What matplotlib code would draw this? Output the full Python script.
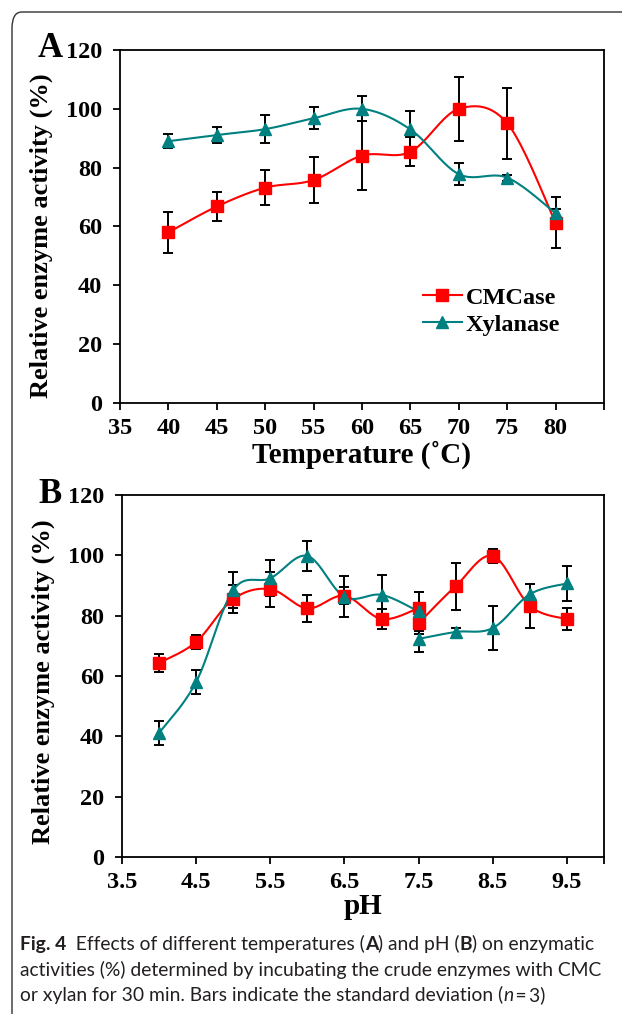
import numpy as np
import matplotlib
matplotlib.use("Agg")
import matplotlib.pyplot as plt
from matplotlib.patches import FancyBboxPatch

# panel A: temperature
temp = [40, 45, 50, 55, 60, 65, 70, 75, 80]
cmc_temp = [58.0, 66.8, 73.2, 75.8, 84.1, 85.4, 100.0, 95.1, 61.3]
cmc_temp_sd = [6.9, 5.0, 6.0, 7.8, 11.6, 5.0, 10.8, 12.0, 8.7]
xyl_temp = [89.0, 91.1, 93.1, 96.8, 100.0, 93.0, 77.8, 76.6, 64.5]
xyl_temp_sd = [2.3, 2.8, 4.8, 3.7, 4.2, 6.3, 3.8, 1.0, 1.5]

# panel B: pH, two buffer ranges overlapping at 7.5
ph1 = [4.0, 4.5, 5.0, 5.5, 6.0, 6.5, 7.0, 7.5]
ph2 = [7.5, 8.0, 8.5, 9.0, 9.5]
cmc_ph1 = [64.3, 71.3, 85.5, 88.8, 82.4, 86.6, 78.9, 82.5]
cmc_ph1_sd = [3.0, 2.4, 4.6, 5.8, 4.6, 2.8, 3.3, 5.5]
cmc_ph2 = [77.5, 89.8, 99.8, 83.2, 78.8]
cmc_ph2_sd = [3.5, 7.8, 2.4, 7.2, 3.7]
xyl_ph1 = [41.1, 58.0, 88.5, 92.4, 99.8, 86.2, 86.9, 81.4]
xyl_ph1_sd = [4.0, 4.0, 6.0, 6.0, 5.0, 6.8, 6.5, 6.5]
xyl_ph2 = [72.3, 74.6, 75.9, 87.1, 90.7]
xyl_ph2_sd = [4.2, 1.2, 7.4, 3.5, 5.9]

RED = '#ff0000'
TEAL = '#008080'
SERIF = 'Liberation Serif'
CAP_FONT = 'Lato'


def smooth(x, y, n=24):
    # excel style smoothed line (bezier through points)
    p = np.column_stack([x, y]).astype(float)
    p = np.vstack([p[0], p, p[-1]])
    out = []
    for i in range(1, len(p) - 2):
        a, b = p[i], p[i + 1]
        c1 = a + (p[i + 1] - p[i - 1]) / 6
        c2 = b - (p[i + 2] - p[i]) / 6
        t = np.linspace(0, 1, n)[:, None]
        seg = (1-t)**3*a + 3*(1-t)**2*t*c1 + 3*(1-t)*t**2*c2 + t**3*b
        out.append(seg if i == 1 else seg[1:])
    out = np.vstack(out)
    return out[:, 0], out[:, 1]


def series(ax, x, y, sd, color, marker, ms, label=None):
    ax.errorbar(x, y, yerr=sd, fmt='none', ecolor='black', elinewidth=1.4,
                capsize=3.3, capthick=1.4, zorder=2)
    sx, sy = smooth(x, y)
    ax.plot(sx, sy, color=color, lw=1.5, zorder=3)
    ax.plot(x, y, ls='none', marker=marker, ms=ms, color=color, zorder=4)
    if label:
        ax.plot([], [], color=color, lw=1.5, marker=marker, ms=ms, label=label)


def style_axes(ax, xticks, xlabels, xlim, ylab_y):
    ax.set_ylim(0, 120)
    ax.set_yticks(range(0, 121, 20))
    ax.set_xlim(*xlim)
    ax.set_xticks(xticks)
    ax.set_xticklabels(xlabels)
    for s in ax.spines.values():
        s.set_linewidth(1.3)
    ax.tick_params(direction='out', length=5, width=1.3, top=False, right=False,
                   labelsize=17.5)
    ax.tick_params(axis='y', pad=8)
    ax.tick_params(axis='x', pad=6)
    for lab in ax.get_xticklabels() + ax.get_yticklabels():
        lab.set_fontfamily(SERIF)
        lab.set_fontweight('bold')
    ax.set_ylabel('Relative enzyme activity (%)', fontsize=19, fontweight='bold',
                  fontfamily=SERIF)
    ax.yaxis.set_label_coords(-0.138, ylab_y)


fig = plt.figure(figsize=(6.22, 10.14), dpi=100)

# card border
card = FancyBboxPatch((12 / 622, -0.05), 1.2, 1 - 12 / 1014 + 0.05,
                      boxstyle='round,pad=0,rounding_size=0.016',
                      transform=fig.transFigure, fill=False,
                      edgecolor='#333333', lw=1.0)
fig.patches.append(card)

axA = fig.add_axes([120 / 622, 1 - 403 / 1014, 484 / 622, 353 / 1014])
series(axA, temp, cmc_temp, cmc_temp_sd, RED, 's', 8, 'CMCase')
series(axA, temp, xyl_temp, xyl_temp_sd, TEAL, '^', 9, 'Xylanase')
style_axes(axA, list(range(35, 86, 5)),
           [str(v) for v in range(35, 81, 5)] + [''], (35, 85), 0.473)
axA.set_xlabel('Temperature (\u02daC)', fontsize=21, fontweight='bold',
               fontfamily=SERIF, labelpad=1)
axA.legend(loc='upper left', bbox_to_anchor=(0.626, 0.33), frameon=False,
           prop={'family': SERIF, 'weight': 'bold', 'size': 17.5},
           handlelength=1.6, handletextpad=0.15, labelspacing=0.22,
           borderpad=0, borderaxespad=0)

axB = fig.add_axes([122 / 622, 1 - 857 / 1014, 482 / 622, 362 / 1014])
series(axB, ph1, cmc_ph1, cmc_ph1_sd, RED, 's', 8)
series(axB, ph2, cmc_ph2, cmc_ph2_sd, RED, 's', 8)
series(axB, ph1, xyl_ph1, xyl_ph1_sd, TEAL, '^', 9)
series(axB, ph2, xyl_ph2, xyl_ph2_sd, TEAL, '^', 9)
ph_ticks = [3.5, 4.5, 5.5, 6.5, 7.5, 8.5, 9.5, 10.0]
style_axes(axB, ph_ticks, ['%.1f' % v for v in ph_ticks[:-1]] + [''], (3.5, 10.0), 0.483)
axB.set_xlabel('pH', fontsize=21, fontweight='bold', fontfamily=SERIF, labelpad=0)

fig.text(38 / 622, 1 - 57 / 1014, 'A', fontsize=25, fontweight='bold', fontfamily=SERIF)
fig.text(38 / 622, 1 - 503 / 1014, 'B', fontsize=25, fontweight='bold', fontfamily=SERIF)

# caption with mixed weights, pieces chained left to right
over = fig.add_axes([0, 0, 1, 1])
over.axis('off')
over.set_zorder(-1)


def caption_line(pieces, x, y, size=13.9):
    fam = [CAP_FONT, 'DejaVu Sans']
    prev = None
    for text, kind in pieces:
        kw = dict(fontsize=size, fontfamily=fam, color='#231f20', va='bottom', ha='left')
        if kind == 'b':
            kw['fontweight'] = 'bold'
        if kind == 'i':
            kw['fontstyle'] = 'italic'
        if prev is None:
            prev = over.text(x, y, text, transform=fig.transFigure, **kw)
        else:
            prev = over.annotate(text, xy=(1, 0), xycoords=prev, **kw)


caption_line([('Fig. 4', 'b'), ('  Effects of different temperatures (', 'r'), ('A', 'b'),
              (') and pH (', 'r'), ('B', 'b'), (') on enzymatic', 'r')],
             20 / 622, 1 - 953 / 1014)
caption_line([('activities (%) determined by incubating the crude enzymes with CMC', 'r')],
             20 / 622, 1 - 979 / 1014)
caption_line([('or xylan for 30 min. Bars indicate the standard deviation (', 'r'),
              ('n', 'i'), ('\u2009=\u20093)', 'r')],
             20 / 622, 1 - 1004 / 1014)

fig.savefig('out.png', dpi=100)
